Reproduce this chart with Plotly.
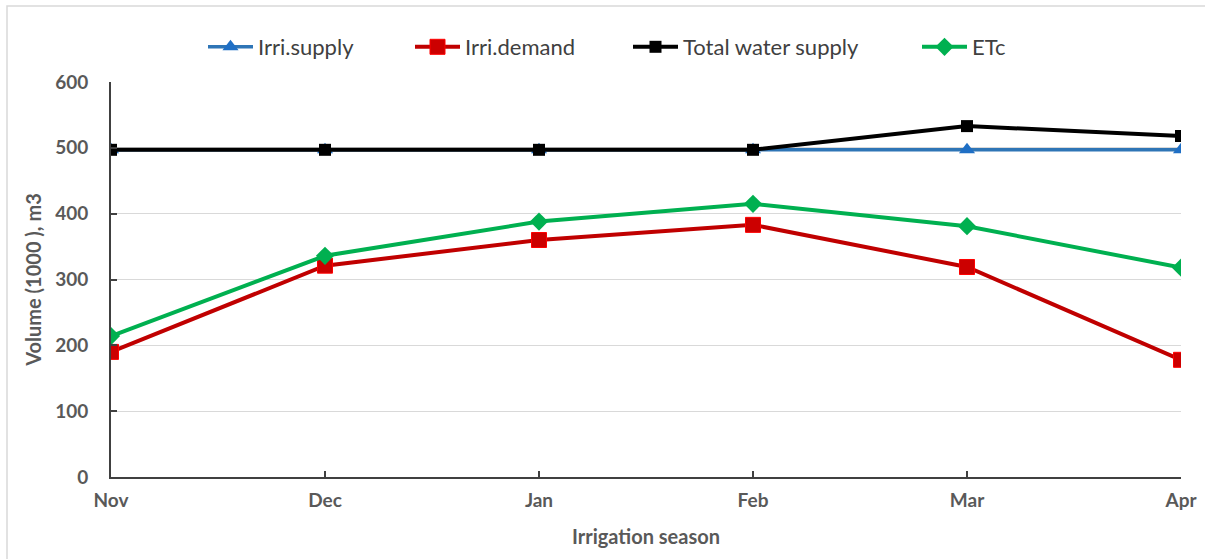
import plotly.graph_objects as go

months = ["Nov", "Dec", "Jan", "Feb", "Mar", "Apr"]
irri_supply = [497, 497, 497, 497, 497, 497]
irri_demand = [190, 321, 360, 383, 319, 178]
total_supply = [497, 497, 497, 497, 533, 518]
etc = [214, 336, 388, 415, 381, 318]

fig = go.Figure()

fig.add_trace(go.Scatter(
    x=months, y=irri_supply, mode="lines+markers", name="Irri.supply", legend="legend",
    line=dict(color="#2e75b6", width=3.5),
    marker=dict(symbol="triangle-up", size=14, color="#1f6fc5")
))
fig.add_trace(go.Scatter(
    x=months, y=irri_demand, mode="lines+markers", name="Irri.demand", legend="legend2",
    line=dict(color="#c00000", width=4),
    marker=dict(symbol="square", size=15, color="#cc0000", line=dict(color="#ff0000", width=1))
))
fig.add_trace(go.Scatter(
    x=months, y=total_supply, mode="lines+markers", name="Total water supply", legend="legend3",
    line=dict(color="#000000", width=4),
    marker=dict(symbol="square", size=12, color="#000000")
))
fig.add_trace(go.Scatter(
    x=months, y=etc, mode="lines+markers", name="ETc", legend="legend4",
    line=dict(color="#00b050", width=4),
    marker=dict(symbol="diamond", size=14, color="#00b050")
))

# one legend per series so the entries sit where the original puts them
legend_x = [203, 410, 628, 917]
leg = dict(orientation="h", xref="container", yref="container", y=1 - 47 / 559,
           yanchor="middle", xanchor="left", bgcolor="rgba(0,0,0,0)",
           font=dict(size=22, color="#404040"), itemwidth=45, visible=True)
legends = {}
for i, px in enumerate(legend_x):
    key = "legend" if i == 0 else f"legend{i + 1}"
    legends[key] = dict(leg, x=px / 1205)

fig.update_layout(
    width=1205, height=559, showlegend=True,
    margin=dict(l=111, r=24, t=82, b=82, autoexpand=False),
    paper_bgcolor="white", plot_bgcolor="white",
    font=dict(family="Lato, 'Open Sans', sans-serif", color="#595959"),
    shapes=[dict(
        type="rect", xref="paper", yref="paper",
        x0=-0.0972, x1=1.1, y0=-0.3, y1=1.1924,
        line=dict(color="#d9d9d9", width=1.5)
    )],
    **legends,
)

fig.update_xaxes(
    type="category", range=[0, 5],
    showline=True, linecolor="#404040", linewidth=2,
    ticks="inside", ticklen=6, tickcolor="#404040", tickwidth=2,
    showgrid=False, ticklabeloverflow="allow", ticklabelstandoff=5,
    tickfont=dict(size=19, color="#595959", weight="bold"),
    title=dict(text="Irrigation season", font=dict(size=20, color="#595959", weight="bold"), standoff=20),
)
fig.update_yaxes(
    range=[0, 600], dtick=100,
    showline=True, linecolor="#404040", linewidth=2,
    ticks="inside", ticklen=6, tickcolor="#404040", tickwidth=2,
    gridcolor="#d9d9d9", gridwidth=1, zeroline=False,
    tickfont=dict(size=19, color="#595959", weight="bold"),
    ticklabelstandoff=17,
    title=dict(text="Volume (1000 ), m3", font=dict(size=20, color="#595959", weight="bold"), standoff=8),
)

fig.write_html("out.html", config={"displayModeBar": False},
               post_script="document.body.style.margin='0';")
